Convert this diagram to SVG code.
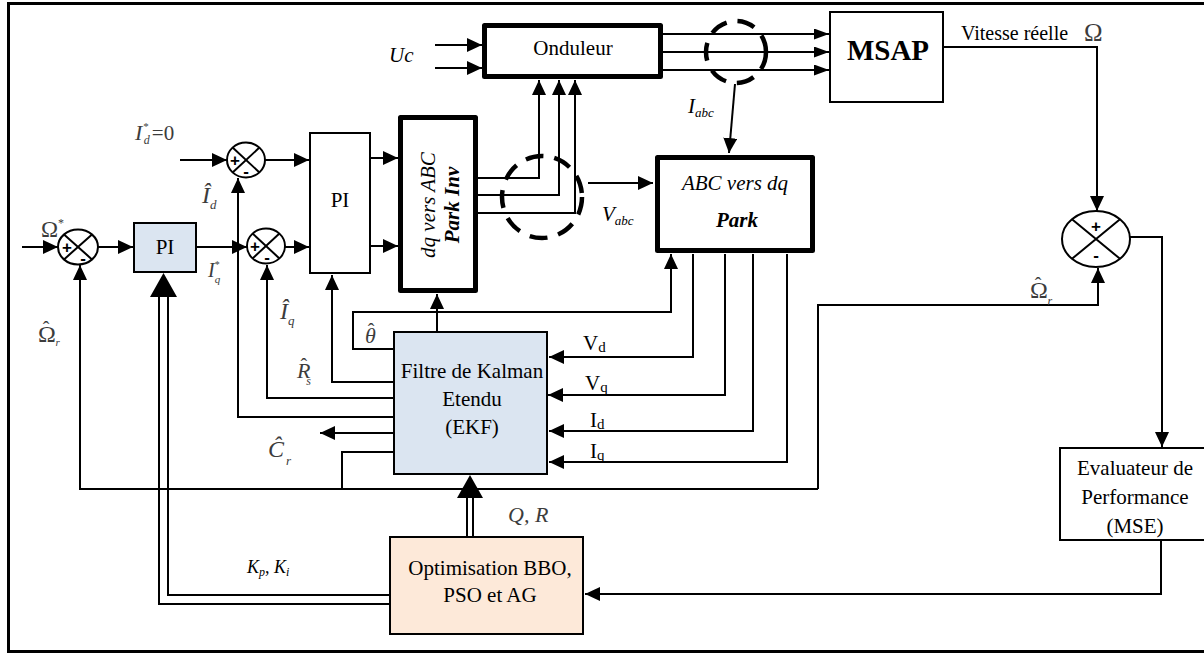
<svg xmlns="http://www.w3.org/2000/svg" width="1204" height="654" viewBox="0 0 1204 654">
<style>
text{font-family:"Liberation Serif","Times New Roman",serif;fill:#000}
.t{font-size:21px}
.eq{fill:#3c3c3c}
.it{font-style:italic}
.h{font-style:normal;font-size:20px}
.st{font-style:normal}
.box{fill:#fff;stroke:#000;stroke-width:2}
.thick{fill:#fff;stroke:#000;stroke-width:5;stroke-linejoin:round}
.ln{fill:none;stroke:#000;stroke-width:2}
.a{marker-end:url(#arr)}
.as{marker-end:url(#arrs)}
.sum{fill:#fff;stroke:#000;stroke-width:2}
.sg{font-family:"Liberation Sans",Arial,sans-serif;font-size:17px;font-weight:bold;text-anchor:middle}
.dash{fill:none;stroke:#000;stroke-width:4.5;stroke-dasharray:18 11}
</style>
<defs>
<marker id="arr" viewBox="0 0 15 14" refX="15" refY="7" markerWidth="15" markerHeight="14" markerUnits="userSpaceOnUse" orient="auto"><path d="M0,0 L15,7 L0,14 z" fill="#000"/></marker>
<marker id="arrs" viewBox="0 0 15 11" refX="15" refY="5.5" markerWidth="15" markerHeight="11" markerUnits="userSpaceOnUse" orient="auto"><path d="M0,0 L15,5.5 L0,11 z" fill="#000"/></marker>
</defs>
<rect x="8.5" y="3.5" width="1200" height="648" fill="#fff" stroke="#000" stroke-width="3"/>

<g id="connectors">
<path class="ln a" d="M435,45 H482"/>
<path class="ln a" d="M435,68 H482"/>
<path class="ln as" d="M663,34 H829"/>
<path class="ln as" d="M663,52 H829"/>
<path class="ln as" d="M663,70 H829"/>
<path class="ln a" d="M478,178 H539 V80"/>
<path class="ln a" d="M478,195 H559 V80"/>
<path class="ln a" d="M478,213 H575 V80"/>
<path class="ln a" d="M735,84 L729,153"/>
<path class="ln a" d="M588,183 H653"/>
<path class="ln a" d="M944,47 H1097 V211"/>
<path class="ln a" d="M1130,237 H1162 V447"/>
<path class="ln a" d="M1161,541 V594 H585"/>
<path class="ln a" d="M22,247 H58"/>
<path class="ln a" d="M98,247 H133"/>
<path class="ln a" d="M197,247 H247"/>
<path class="ln a" d="M285,247 H309"/>
<path class="ln a" d="M180,160 H227"/>
<path class="ln a" d="M265,160 H309"/>
<path class="ln a" d="M371,158 H398"/>
<path class="ln a" d="M371,246 H398"/>
<path class="ln a" d="M393,417 H238 V178"/>
<path class="ln a" d="M393,398 H267 V265"/>
<path class="ln a" d="M393,382 H332 V275"/>
<path class="ln a" d="M393,349 H353 V312 H671 V254"/>
<path class="ln a" d="M437,331 V294"/>
<path class="ln a" d="M393,433 H320"/>
<path class="ln" d="M393,452 H342 V489"/>
<path class="ln a" d="M818,489 H80 V265"/>
<path class="ln a" d="M818,489 V305 H1098 V268"/>
<path class="ln a" d="M693,254 V357 H549"/>
<path class="ln a" d="M725,254 V395 H548"/>
<path class="ln a" d="M753,254 V431 H549"/>
<path class="ln a" d="M787,254 V462 H549"/>
<path class="ln" d="M390,604 H159 V296"/>
<path class="ln" d="M390,595 H168 V296"/>
<polygon points="163.5,273 150,297 177,297" fill="#000"/>
<path class="ln" d="M467,536 V496"/>
<path class="ln" d="M473,536 V496"/>
<polygon points="470,475 457,498 483,498" fill="#000"/>
<ellipse class="dash" cx="736" cy="52" rx="30" ry="31"/>
<ellipse class="dash" cx="542" cy="197" rx="40" ry="41"/>
</g>

<g id="sum-omega">
<ellipse class="sum" cx="78" cy="247" rx="20" ry="17.5"/>
<path class="ln" d="M64,234.6 L92,259.4 M92,234.6 L64,259.4"/>
<text class="sg" x="67" y="253">+</text>
<text class="sg" x="83" y="264">-</text>
</g>
<g id="sum-id">
<ellipse class="sum" cx="246" cy="160" rx="19" ry="17.5"/>
<path class="ln" d="M232.6,147.6 L259.4,172.4 M259.4,147.6 L232.6,172.4"/>
<text class="sg" x="235" y="166">+</text>
<text class="sg" x="246" y="177">-</text>
</g>
<g id="sum-iq">
<ellipse class="sum" cx="266" cy="246" rx="19" ry="17.5"/>
<path class="ln" d="M252.6,233.6 L279.4,258.4 M279.4,233.6 L252.6,258.4"/>
<text class="sg" x="255" y="252">+</text>
<text class="sg" x="267" y="263">-</text>
</g>
<g id="sum-speed">
<ellipse class="sum" cx="1096" cy="239" rx="34" ry="28"/>
<path class="ln" d="M1072,219.2 L1120,258.8 M1120,219.2 L1072,258.8"/>
<text class="sg" x="1096" y="232">+</text>
<text class="sg" x="1096" y="261">-</text>
</g>

<g id="pi-speed">
<rect x="134" y="223" width="62" height="49" fill="#dbe5f1" stroke="#000" stroke-width="2"/>
<text class="t" x="165" y="254" text-anchor="middle">PI</text>
</g>
<g id="pi-current">
<rect class="box" x="310" y="133" width="60" height="140"/>
<text class="t" x="340" y="207" text-anchor="middle">PI</text>
</g>
<g id="park-inv">
<rect class="thick" x="400.5" y="117.5" width="75" height="173"/>
<text class="t it" transform="translate(435,205) rotate(-90)" text-anchor="middle">dq vers ABC</text>
<text class="t it" transform="translate(459,205) rotate(-90)" text-anchor="middle" font-weight="bold">Park Inv</text>
</g>
<g id="onduleur">
<rect class="thick" x="484.5" y="25.5" width="176" height="51"/>
<text class="t" x="573" y="55" text-anchor="middle">Onduleur</text>
</g>
<g id="msap">
<rect class="box" x="830" y="12" width="113" height="90"/>
<text x="888" y="60" text-anchor="middle" font-size="29" font-weight="bold">MSAP</text>
</g>
<g id="park">
<rect class="thick" x="657.5" y="157.5" width="155" height="93"/>
<text class="t it" x="735" y="190" text-anchor="middle">ABC vers dq</text>
<text class="t it" x="737" y="227" text-anchor="middle" font-weight="bold">Park</text>
</g>
<g id="ekf">
<rect x="394" y="332" width="153" height="142" fill="#dbe5f1" stroke="#000" stroke-width="2"/>
<text class="t" x="472" y="378" text-anchor="middle">Filtre de Kalman</text>
<text class="t" x="472" y="406" text-anchor="middle">Etendu</text>
<text class="t" x="472" y="434" text-anchor="middle">(EKF)</text>
</g>
<g id="optim">
<rect x="390" y="537" width="193" height="97" fill="#fde9d9" stroke="#000" stroke-width="2"/>
<text class="t" x="490" y="575" text-anchor="middle">Optimisation BBO,</text>
<text class="t" x="490" y="602" text-anchor="middle">PSO et AG</text>
</g>
<g id="mse">
<rect class="box" x="1060" y="448" width="150" height="92"/>
<text class="t" x="1135" y="475" text-anchor="middle">Evaluateur de</text>
<text class="t" x="1135" y="504" text-anchor="middle">Performance</text>
<text class="t" x="1135" y="533" text-anchor="middle">(MSE)</text>
</g>

<g id="labels">
<text class="it" x="389" y="62" font-size="21">Uc</text>
<text x="961" y="40" font-size="20">Vitesse réelle</text>
<text class="eq" x="1084" y="41" font-size="25">Ω</text>
<text class="it" x="688" y="113" font-size="21">I<tspan font-size="13" dy="4">abc</tspan></text>
<text class="it" x="602" y="221" font-size="21">V<tspan font-size="13" dy="4">abc</tspan></text>
<text x="583" y="350" font-size="21">V<tspan font-size="15" dy="2">d</tspan></text>
<text x="585" y="390" font-size="21">V<tspan font-size="15" dy="2">q</tspan></text>
<text x="590" y="427" font-size="21">I<tspan font-size="15" dy="2">d</tspan></text>
<text x="590" y="458" font-size="21">I<tspan font-size="15" dy="2">q</tspan></text>
<text class="eq it" x="508" y="522" font-size="22">Q, R</text>
<text class="it" x="247" y="573" font-size="18">K<tspan font-size="12" dy="3">p</tspan><tspan dy="-3" class="st">, </tspan>K<tspan font-size="12" dy="3">i</tspan></text>
<text class="eq it" x="135" y="140" font-size="22">I<tspan class="st" font-size="11" dx="1" dy="-10">*</tspan><tspan font-size="12" dx="-5" dy="14">d</tspan><tspan class="st" font-size="21" dx="2" dy="-4">=0</tspan></text>
<text class="eq" x="41" y="237" font-size="23">Ω<tspan font-size="12" dy="-10">*</tspan></text>
<text class="eq it" x="208" y="277" font-size="20">I<tspan class="st" font-size="10" dy="-9">*</tspan><tspan font-size="11" dx="-5" dy="15">q</tspan></text>
<text class="eq it" x="202" y="203" font-size="24">Î<tspan font-size="13" dy="6">d</tspan></text>
<text class="eq it" x="280" y="319" font-size="24">Î<tspan font-size="13" dy="6">q</tspan></text>
<text class="eq it" x="297" y="378" font-size="22">R<tspan class="h" dx="-10" dy="-5">ˆ</tspan><tspan font-size="12" dx="-1" dy="12">s</tspan></text>
<text class="eq it" x="365" y="343" font-size="22">θ<tspan class="h" dx="-8" dy="-5">ˆ</tspan></text>
<text class="eq it" x="268" y="457" font-size="24">Ĉ<tspan font-size="13" dx="2" dy="8">r</tspan></text>
<text class="eq" x="38" y="342" font-size="24">Ω<tspan class="h" dx="-13" dy="-6">ˆ</tspan><tspan class="it" font-size="11" dx="6" dy="10">r</tspan></text>
<text class="eq" x="1030" y="298" font-size="24">Ω<tspan class="h" dx="-13" dy="-6">ˆ</tspan><tspan class="it" font-size="12" dx="6" dy="13">r</tspan></text>
</g>
</svg>
